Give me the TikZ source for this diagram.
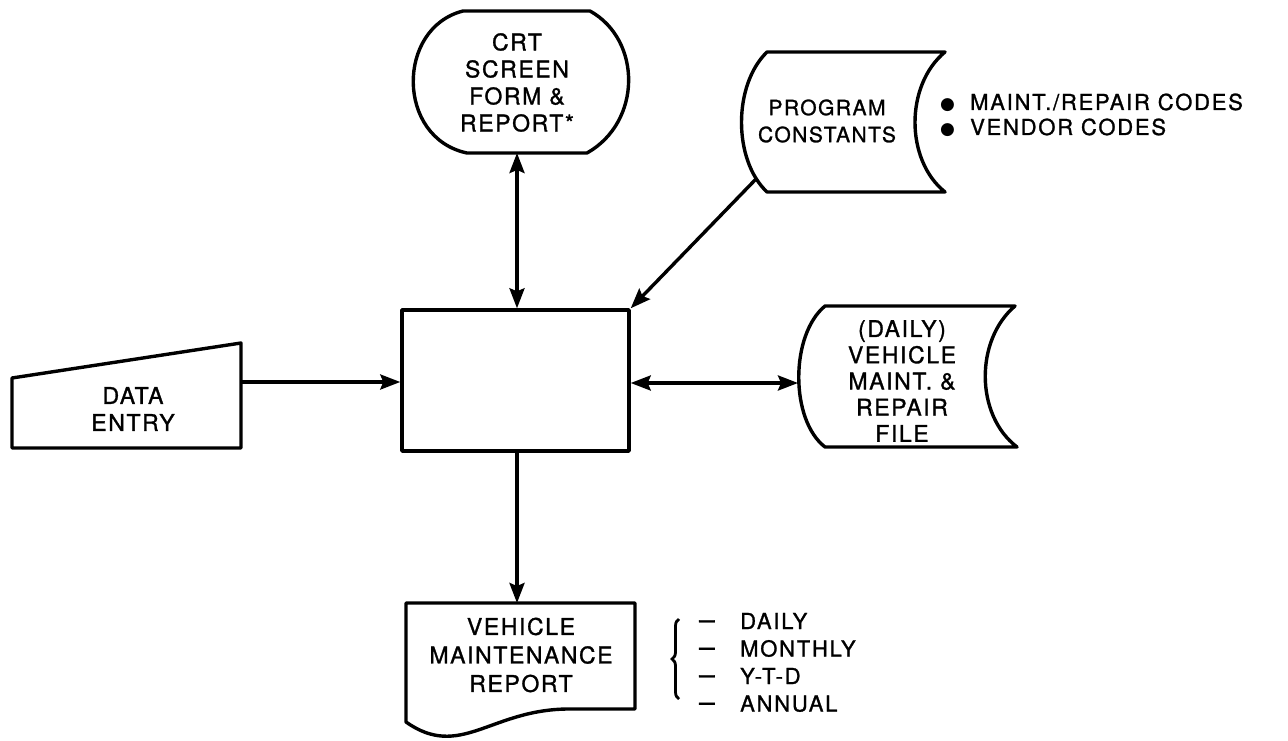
\documentclass[tikz,border=0pt]{standalone}
\usepackage{fontspec}
\setmainfont{TeX Gyre Heros}
\newfontfamily\mainf[LetterSpace=7,FakeBold=1.2]{TeX Gyre Heros}
\newfontfamily\sidef[LetterSpace=8,FakeBold=1.2]{TeX Gyre Heros}
\newfontfamily\dashf[FakeBold=1.5]{TeX Gyre Heros}
\newfontfamily\bulf{DejaVu Sans}
\usetikzlibrary{arrows.meta,decorations.pathreplacing}
\tikzset{
  shp/.style={line width=3.4pt, line join=round},
  tip/.tip={Stealth[length=20pt,width=15pt,inset=3pt]},
  conn/.style={line width=3.4pt, -tip},
  dconn/.style={line width=3.4pt, tip-tip},
  lbl/.style={align=center, inner sep=0pt, font=\mainf\fontsize{23}{27}\selectfont},
  pclbl/.style={align=center, inner sep=0pt, font=\mainf\fontsize{21}{27}\selectfont},
  side/.style={anchor=base west, inner sep=0pt, font=\sidef\fontsize{22}{24}\selectfont},
}
\newcommand{\sdash}{\makebox[41pt][l]{\dashf\fontsize{28}{28}\selectfont –}}
\begin{document}
\begin{tikzpicture}[x=1pt,y=-1pt]
\useasboundingbox (0,0) rectangle (1288,741);

% process box
\node[shp, draw, minimum width=227pt, minimum height=141pt, inner sep=0pt] (proc) at (515.5,380.5) {};

% CRT display
\draw[shp] (463,11) -- (590,11) .. controls (642,40) and (642,122) .. (587,153)
  -- (467,153) .. controls (396,138) and (396,28) .. (463,11) -- cycle;
\node[lbl] (crt) at (517,82.5) {CRT\\SCREEN\\FORM \&\\REPORT*};
\coordinate (crtb) at (517,153);

% program constants
\draw[shp] (767,52) -- (945,52) .. controls (905,85) and (905,160) .. (945,192)
  -- (767,192) .. controls (733,160) and (733,85) .. (767,52) -- cycle;
\node[pclbl] (pc) at (827,121) {PROGRAM\\CONSTANTS};
\coordinate (pcout) at (756,179);
\node[side] (b1) at (940,110) {\makebox[30pt][l]{\bulf\fontsize{17}{20}\selectfont ●}MAINT./REPAIR CODES};
\node[side] (b2) at (940,135) {\makebox[30pt][l]{\bulf\fontsize{17}{20}\selectfont ●}VENDOR CODES};

% data entry
\draw[shp] (12,378) -- (241,343) -- (241,448) -- (12,448) -- cycle;
\node[lbl] (de) at (133,409) {DATA\\ENTRY};
\coordinate (deout) at (241,382);

% daily file
\draw[shp] (825,306) -- (1015,306) .. controls (975,340) and (975,415) .. (1017,447)
  -- (825,447) .. controls (790,420) and (790,335) .. (825,306) -- cycle;
\node[lbl, font=\mainf\fontsize{23}{26.2}\selectfont] (file) at (902,381) {(DAILY)\\VEHICLE\\MAINT. \&\\REPAIR\\FILE};
\coordinate (filein) at (798,383);

% report document
\draw[shp] (406,603) -- (635,603) -- (635,709) -- (567,709)
  .. controls (490,710) and (460,760) .. (406,722) -- cycle;
\node[lbl, font=\mainf\fontsize{23}{28.5}\selectfont] (rep) at (521,655) {VEHICLE\\MAINTENANCE\\REPORT};
\coordinate (reptop) at (517,603);

% brace and list
\draw[line width=2.8pt, decorate, decoration={brace, amplitude=7pt}] (679,699) -- (679,619);
\node[side] (l1) at (699,629) {\sdash DAILY};
\node[side] (l2) at (699,656.5) {\sdash MONTHLY};
\node[side] (l3) at (699,684) {\sdash Y-T-D};
\node[side] (l4) at (699,711.5) {\sdash ANNUAL};

% connectors
\draw[dconn] (crtb) -- (crtb |- proc.north);
\draw[conn] (pcout) -- (proc.north east);
\draw[conn] (deout) -- (deout -| proc.west);
\draw[dconn] (proc.east |- filein) -- (filein);
\draw[conn] (reptop |- proc.south) -- (reptop);
\end{tikzpicture}
\end{document}
